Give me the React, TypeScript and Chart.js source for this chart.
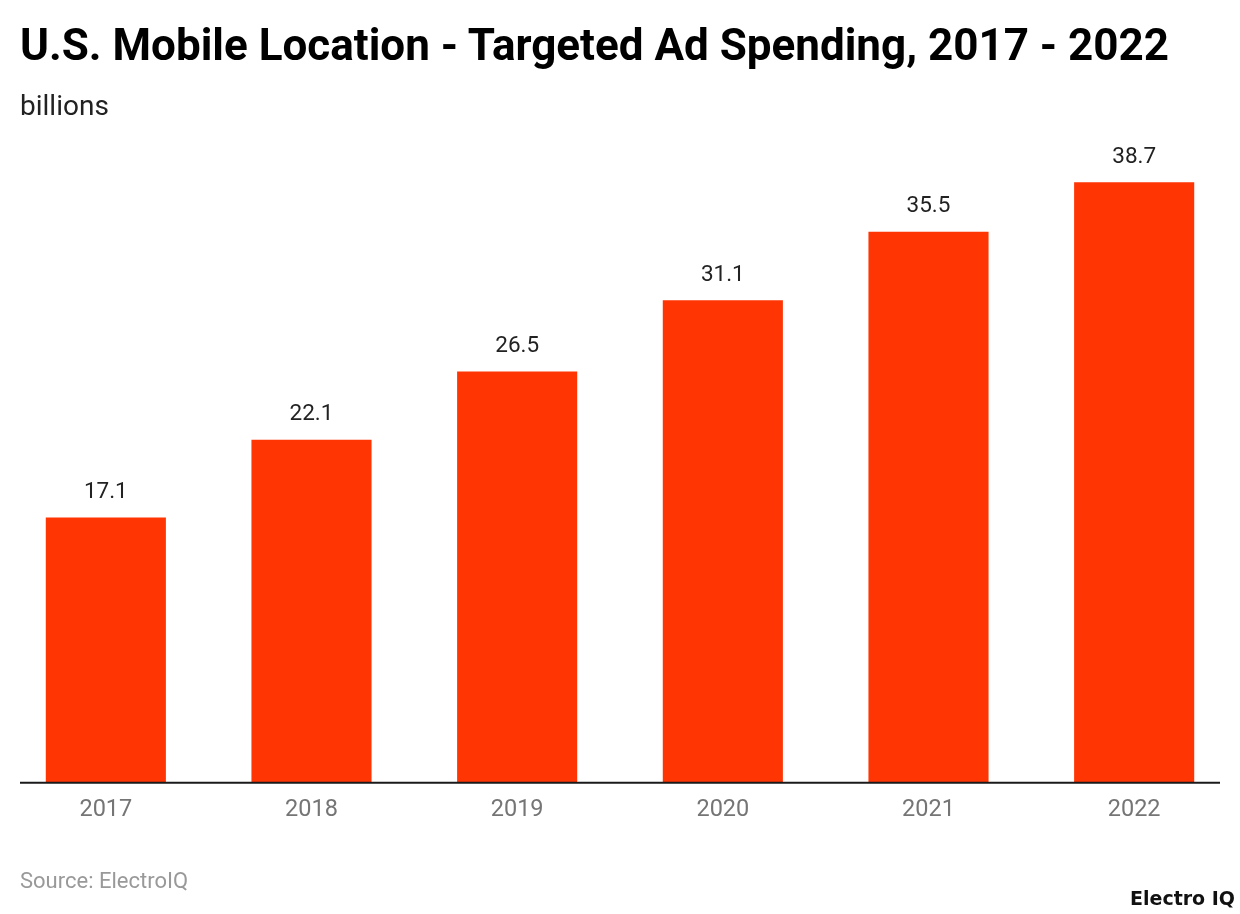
import React, { useEffect, useRef } from "react";
import { Chart, registerables } from "chart.js";

Chart.register(...registerables);

const years = ["2017", "2018", "2019", "2020", "2021", "2022"];
const spending = [17.1, 22.1, 26.5, 31.1, 35.5, 38.7];

const FONT = "Roboto, 'Noto Sans', sans-serif";

const axisAndLabels = {
  id: "axisAndLabels",
  afterDatasetsDraw(chart: any) {
    const { ctx, chartArea } = chart;
    ctx.save();
    ctx.strokeStyle = "#1a1a1a";
    ctx.lineWidth = 2;
    ctx.beginPath();
    ctx.moveTo(20, chartArea.bottom);
    ctx.lineTo(1220, chartArea.bottom);
    ctx.stroke();
    const meta = chart.getDatasetMeta(0);
    ctx.fillStyle = "#222222";
    ctx.font = `22.5px ${FONT}`;
    ctx.textAlign = "center";
    ctx.textBaseline = "middle";
    meta.data.forEach((bar: any, i: number) => {
      ctx.fillText(String(spending[i]), bar.x, bar.y - 25);
    });
    ctx.restore();
  },
};

export default function App() {
  const ref = useRef<HTMLCanvasElement>(null);
  useEffect(() => {
    if (!ref.current) return;
    const chart = new Chart(ref.current, {
      type: "bar",
      data: {
        labels: years,
        datasets: [
          {
            data: spending,
            backgroundColor: "#FF3503",
            barPercentage: 0.584,
            categoryPercentage: 1,
          },
        ],
      },
      options: {
        animation: false,
        responsive: false,
        maintainAspectRatio: false,
        layout: { padding: { left: 3, right: 3, top: 162, bottom: 85 } },
        plugins: {
          legend: { display: false },
          tooltip: { enabled: false },
          title: { display: false },
        },
        scales: {
          x: {
            grid: { display: false },
            border: { display: false },
            ticks: {
              color: "#757575",
              font: { family: FONT, size: 23.5 },
              padding: 5,
            },
          },
          y: {
            display: false,
            min: 0,
            max: 40,
          },
        },
      },
      plugins: [axisAndLabels],
    });
    return () => chart.destroy();
  }, []);

  return (
    <div style={{ position: "absolute", left: 0, top: 0, width: 1240, height: 914, background: "#fff", fontFamily: FONT }}>
      <canvas ref={ref} width={1240} height={914} style={{ position: "absolute", left: 0, top: 0, width: 1240, height: 914 }} />
      <div style={{ position: "absolute", left: 20, top: 19, fontSize: 44, fontWeight: 700, color: "#000", lineHeight: "52px", whiteSpace: "nowrap" }}>
        U.S. Mobile Location - Targeted Ad Spending, 2017 - 2022
      </div>
      <div style={{ position: "absolute", left: 20, top: 89, fontSize: 28, color: "#222", lineHeight: "34px" }}>
        billions
      </div>
      <div style={{ position: "absolute", left: 20, top: 868, fontSize: 22, color: "#999", lineHeight: "26px" }}>
        Source: ElectroIQ
      </div>
      <div style={{ position: "absolute", left: 1130, top: 887, fontSize: 19, fontWeight: 700, color: "#111", lineHeight: "22px", fontFamily: "'DejaVu Sans', sans-serif", whiteSpace: "nowrap" }}>
        Electro IQ
      </div>
    </div>
  );
}
